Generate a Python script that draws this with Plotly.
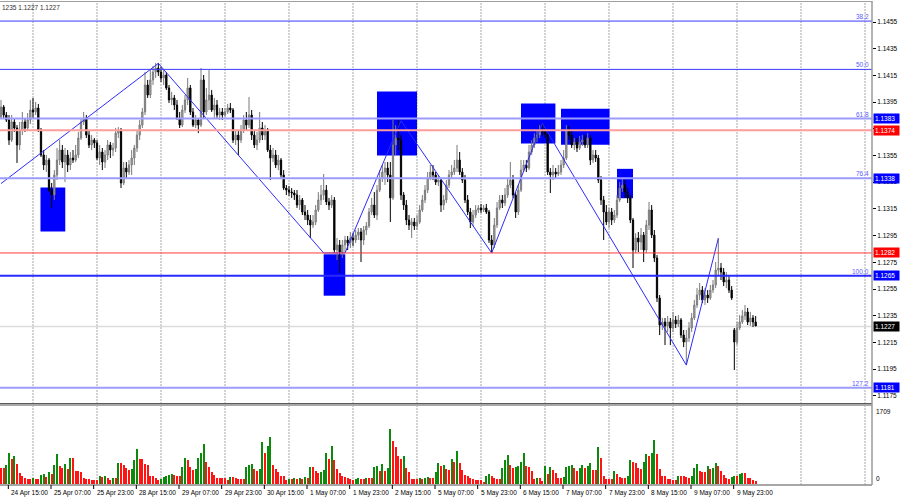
import plotly.graph_objects as go
import pandas as pd

# ---------------- data (EURUSD H1) ----------------
opens = [
1.13838,1.13913,1.13853,1.13816,1.13666,1.13801,1.13756,1.13629,1.13741,1.13801,1.13756,1.13816,
1.13891,1.13876,1.13906,1.13741,1.13554,1.13479,1.13516,1.13291,1.13254,1.13404,1.13516,1.13591,
1.13501,1.13554,1.13479,1.13531,1.13516,1.13554,1.13681,1.13801,1.13831,1.13703,1.13629,1.13666,
1.13644,1.13531,1.13576,1.13501,1.13554,1.13629,1.13591,1.13606,1.13718,1.13741,1.13344,1.13456,
1.13426,1.13479,1.13531,1.13606,1.13703,1.13778,1.13876,1.14078,1.14003,1.14116,1.14175,1.14205,
1.14175,1.14131,1.14153,1.14056,1.13966,1.13981,1.13928,1.13831,1.13778,1.13891,1.13966,1.14056,
1.13876,1.13778,1.13816,1.13778,1.14116,1.13876,1.13966,1.14003,1.13891,1.13928,1.13853,1.13876,
1.13853,1.13876,1.13906,1.13891,1.13666,1.13703,1.13666,1.13741,1.13816,1.13778,1.13853,1.13703,
1.13629,1.13666,1.13756,1.13703,1.13741,1.13591,1.13531,1.13554,1.13479,1.13516,1.13404,1.13306,
1.13291,1.13276,1.13269,1.13254,1.13179,1.13217,1.13127,1.13104,1.13067,1.13029,1.13052,1.13142,
1.13217,1.13254,1.13291,1.13202,1.13179,1.13217,1.12842,1.12880,1.12827,1.12880,1.12917,1.12895,
1.12932,1.12917,1.12954,1.12977,1.12917,1.12992,1.13022,1.13127,1.13179,1.13104,1.13291,1.13381,
1.13426,1.13456,1.13404,1.13232,1.13629,1.13681,1.13666,1.13254,1.13179,1.13067,1.13029,1.13052,
1.13022,1.13052,1.13142,1.13217,1.13291,1.13381,1.13426,1.13404,1.13351,1.13366,1.13179,1.13217,
1.13329,1.13404,1.13426,1.13456,1.13516,1.13426,1.13366,1.13217,1.13127,1.13052,1.13104,1.13142,
1.13157,1.13142,1.13157,1.13127,1.12917,1.12880,1.13029,1.13157,1.13217,1.13194,1.13254,1.13329,
1.13366,1.13254,1.13127,1.13291,1.13441,1.13479,1.13456,1.13576,1.13629,1.13681,1.13703,1.13741,
1.13726,1.13711,1.13426,1.13404,1.13426,1.13411,1.13426,1.13479,1.13531,1.13741,1.13703,1.13629,
1.13651,1.13606,1.13651,1.13666,1.13629,1.13681,1.13516,1.13554,1.13531,1.13366,1.13217,1.13127,
1.13052,1.13127,1.13067,1.13104,1.13217,1.13306,1.13329,1.13276,1.13232,1.13067,1.12842,1.12932,
1.12902,1.12954,1.12842,1.13029,1.13142,1.12954,1.12782,1.12483,1.12280,1.12303,1.12273,1.12303,
1.12258,1.12318,1.12288,1.12318,1.12205,1.12153,1.12183,1.12258,1.12333,1.12430,1.12505,1.12542,
1.12468,1.12505,1.12483,1.12542,1.12580,1.12692,1.12707,1.12677,1.12602,1.12617,1.12542,1.12243,
1.12153,1.12258,1.12303,1.12348,1.12378,1.12303,1.12333,1.12303]

highs = [
1.13966,1.13928,1.13876,1.13853,1.13853,1.13831,1.13778,1.13801,1.13876,1.13831,1.13868,1.13966,
1.13981,1.13951,1.13936,1.13756,1.13591,1.13554,1.13531,1.13344,1.13441,1.13606,1.13666,1.13629,
1.13606,1.13591,1.13576,1.13591,1.13629,1.13726,1.13831,1.13876,1.13853,1.13741,1.13703,1.13681,
1.13666,1.13629,1.13606,1.13591,1.13666,1.13651,1.13644,1.13756,1.13763,1.13756,1.13501,1.13501,
1.13516,1.13591,1.13629,1.13741,1.13816,1.13906,1.14175,1.14116,1.14190,1.14220,1.14243,1.14243,
1.14213,1.14190,1.14175,1.14078,1.14026,1.14003,1.13966,1.13876,1.13928,1.14003,1.14131,1.14078,
1.13906,1.13853,1.13831,1.14205,1.14153,1.14056,1.14190,1.14041,1.13981,1.13966,1.13906,1.13906,
1.13906,1.13936,1.13943,1.13906,1.13741,1.13741,1.13778,1.13853,1.13876,1.13988,1.13891,1.13741,
1.13726,1.13876,1.13801,1.13778,1.13756,1.13629,1.13606,1.13591,1.13554,1.13531,1.13441,1.13329,
1.13321,1.13306,1.13291,1.13291,1.13254,1.13232,1.13179,1.13142,1.13104,1.13104,1.13179,1.13276,
1.13329,1.13411,1.13329,1.13232,1.13254,1.13239,1.12932,1.12917,1.12917,1.12947,1.12947,1.12977,
1.12969,1.12992,1.13007,1.13007,1.13022,1.13052,1.13157,1.13232,1.13276,1.13329,1.13441,1.13479,
1.13501,1.13501,1.13501,1.13816,1.13778,1.13816,1.13703,1.13276,1.13217,1.13104,1.13082,1.13082,
1.13104,1.13179,1.13254,1.13329,1.13426,1.13479,1.13479,1.13426,1.13404,1.13381,1.13254,1.13366,
1.13441,1.13479,1.13516,1.13629,1.13576,1.13456,1.13404,1.13254,1.13157,1.13142,1.13179,1.13179,
1.13187,1.13179,1.13187,1.13142,1.12954,1.13082,1.13202,1.13254,1.13254,1.13306,1.13381,1.13501,
1.13404,1.13276,1.13329,1.13516,1.13516,1.13516,1.13629,1.13666,1.13718,1.13741,1.13778,1.13786,
1.13756,1.13741,1.13456,1.13479,1.13456,1.13479,1.13516,1.13591,1.13778,1.13771,1.13741,1.13681,
1.13681,1.13696,1.13703,1.13703,1.13718,1.13703,1.13591,1.13591,1.13554,1.13396,1.13247,1.13179,
1.13157,1.13157,1.13142,1.13254,1.13351,1.13381,1.13366,1.13306,1.13254,1.13082,1.12969,1.12977,
1.13007,1.12977,1.13067,1.13202,1.13179,1.12992,1.12805,1.12505,1.12333,1.12333,1.12348,1.12333,
1.12378,1.12348,1.12355,1.12333,1.12243,1.12243,1.12303,1.12370,1.12468,1.12557,1.12595,1.12572,
1.12557,1.12542,1.12580,1.12617,1.12752,1.12932,1.12745,1.12707,1.12677,1.12647,1.12572,1.12258,
1.12303,1.12355,1.12393,1.12430,1.12408,1.12378,1.12355,1.12348]

lows = [
1.13831,1.13831,1.13801,1.13629,1.13651,1.13726,1.13494,1.13591,1.13703,1.13726,1.13741,1.13786,
1.13831,1.13853,1.13726,1.13539,1.13441,1.13426,1.13276,1.13157,1.13217,1.13366,1.13479,1.13456,
1.13351,1.13426,1.13441,1.13494,1.13501,1.13531,1.13666,1.13778,1.13681,1.13606,1.13591,1.13606,
1.13516,1.13479,1.13441,1.13456,1.13516,1.13531,1.13546,1.13576,1.13681,1.13306,1.13329,1.13381,
1.13404,1.13404,1.13479,1.13576,1.13666,1.13756,1.13853,1.13981,1.13981,1.14078,1.14131,1.14146,
1.14101,1.14078,1.14041,1.13943,1.13928,1.13891,1.13816,1.13756,1.13763,1.13868,1.13928,1.13853,
1.13763,1.13756,1.13718,1.13763,1.13831,1.13853,1.13891,1.13876,1.13831,1.13831,1.13816,1.13816,
1.13838,1.13861,1.13868,1.13644,1.13629,1.13554,1.13644,1.13718,1.13741,1.13756,1.13666,1.13606,
1.13591,1.13644,1.13666,1.13666,1.13576,1.13366,1.13501,1.13456,1.13441,1.13381,1.13291,1.13254,
1.13247,1.13232,1.13217,1.13157,1.13142,1.13104,1.13067,1.13029,1.12932,1.13007,1.13029,1.13127,
1.13179,1.13217,1.13179,1.13142,1.13157,1.12820,1.12767,1.12670,1.12782,1.12827,1.12842,1.12857,
1.12872,1.12895,1.12917,1.12752,1.12880,1.12954,1.13007,1.13104,1.13082,1.13067,1.13276,1.13351,
1.13329,1.13351,1.13052,1.13217,1.13554,1.13591,1.13217,1.13142,1.13029,1.12992,1.12932,1.12992,
1.12992,1.13037,1.13127,1.13194,1.13269,1.13366,1.13366,1.13329,1.13321,1.13127,1.13142,1.13194,
1.13306,1.13381,1.13404,1.13426,1.13404,1.13344,1.13194,1.13104,1.13007,1.13022,1.13082,1.13119,
1.13119,1.13127,1.13112,1.12895,1.12820,1.12857,1.13007,1.13142,1.13157,1.13172,1.13232,1.13306,
1.13232,1.13082,1.13104,1.13276,1.13426,1.13426,1.13441,1.13554,1.13606,1.13651,1.13681,1.13696,
1.13681,1.13404,1.13269,1.13366,1.13381,1.13396,1.13404,1.13456,1.13516,1.13666,1.13606,1.13591,
1.13576,1.13591,1.13621,1.13606,1.13606,1.13479,1.13494,1.13501,1.13344,1.13179,1.12917,1.13029,
1.13007,1.13029,1.13044,1.13082,1.13202,1.13276,1.13232,1.13194,1.13044,1.12707,1.12820,1.12827,
1.12842,1.12752,1.12820,1.12992,1.12932,1.12752,1.12453,1.12205,1.12243,1.12130,1.12228,1.12130,
1.12228,1.12258,1.12265,1.12183,1.12115,1.11981,1.12153,1.12228,1.12318,1.12408,1.12468,1.12445,
1.12430,1.12445,1.12468,1.12520,1.12557,1.12655,1.12617,1.12572,1.12557,1.12520,1.12468,1.11943,
1.12130,1.12243,1.12288,1.12318,1.12280,1.12273,1.12265,1.12273]

closes = [
1.13913,1.13853,1.13816,1.13666,1.13801,1.13756,1.13629,1.13741,1.13801,1.13756,1.13816,1.13891,
1.13876,1.13906,1.13741,1.13554,1.13479,1.13516,1.13291,1.13254,1.13404,1.13516,1.13591,1.13501,
1.13554,1.13479,1.13531,1.13516,1.13554,1.13681,1.13801,1.13831,1.13703,1.13629,1.13666,1.13644,
1.13531,1.13576,1.13501,1.13554,1.13629,1.13591,1.13606,1.13718,1.13741,1.13344,1.13456,1.13426,
1.13479,1.13531,1.13606,1.13703,1.13778,1.13876,1.14078,1.14003,1.14116,1.14175,1.14205,1.14175,
1.14131,1.14153,1.14056,1.13966,1.13981,1.13928,1.13831,1.13778,1.13891,1.13966,1.14056,1.13876,
1.13778,1.13816,1.13778,1.14116,1.13876,1.13966,1.14003,1.13891,1.13928,1.13853,1.13876,1.13853,
1.13876,1.13906,1.13891,1.13666,1.13703,1.13666,1.13741,1.13816,1.13778,1.13853,1.13703,1.13629,
1.13666,1.13756,1.13703,1.13741,1.13591,1.13531,1.13554,1.13479,1.13516,1.13404,1.13306,1.13291,
1.13276,1.13269,1.13254,1.13179,1.13217,1.13127,1.13104,1.13067,1.13029,1.13052,1.13142,1.13217,
1.13254,1.13291,1.13202,1.13179,1.13217,1.12842,1.12880,1.12827,1.12880,1.12917,1.12895,1.12932,
1.12917,1.12954,1.12977,1.12917,1.12992,1.13022,1.13127,1.13179,1.13104,1.13291,1.13381,1.13426,
1.13456,1.13404,1.13232,1.13629,1.13681,1.13666,1.13254,1.13179,1.13067,1.13029,1.13052,1.13022,
1.13052,1.13142,1.13217,1.13291,1.13381,1.13426,1.13404,1.13351,1.13366,1.13179,1.13217,1.13329,
1.13404,1.13426,1.13456,1.13516,1.13426,1.13366,1.13217,1.13127,1.13052,1.13104,1.13142,1.13157,
1.13142,1.13157,1.13127,1.12917,1.12880,1.13029,1.13157,1.13217,1.13194,1.13254,1.13329,1.13366,
1.13254,1.13127,1.13291,1.13441,1.13479,1.13456,1.13576,1.13629,1.13681,1.13703,1.13741,1.13726,
1.13711,1.13426,1.13404,1.13426,1.13411,1.13426,1.13479,1.13531,1.13741,1.13703,1.13629,1.13651,
1.13606,1.13651,1.13666,1.13629,1.13681,1.13516,1.13554,1.13531,1.13366,1.13217,1.13127,1.13052,
1.13127,1.13067,1.13104,1.13217,1.13306,1.13329,1.13276,1.13232,1.13067,1.12842,1.12932,1.12902,
1.12954,1.12842,1.13029,1.13142,1.12954,1.12782,1.12483,1.12280,1.12303,1.12273,1.12303,1.12258,
1.12318,1.12288,1.12318,1.12205,1.12153,1.12183,1.12258,1.12333,1.12430,1.12505,1.12542,1.12468,
1.12505,1.12483,1.12542,1.12580,1.12692,1.12707,1.12677,1.12602,1.12617,1.12542,1.12483,1.12153,
1.12258,1.12303,1.12348,1.12378,1.12303,1.12333,1.12303,1.12273]

volumes = [
346,346,410,670,540,605,432,238,173,130,108,108,130,108,108,194,216,151,259,216,410,648,389,346,
432,324,562,562,281,281,259,130,108,108,86,86,
86,173,151,173,130,86,130,130,454,454,410,346,302,324,518,756,540,540,432,410,173,173,130,86,
108,151,173,194,216,194,173,173,367,562,518,367,302,324,562,670,886,475,367,259,194,130,130,130,
130,86,151,151,130,108,108,108,367,410,432,324,281,324,929,670,842,1037,410,324,259,173,173,86,
108,108,130,108,130,108,151,130,367,367,281,238,259,302,670,540,842,518,324,238,173,151,130,108,
86,108,130,108,108,130,130,130,367,389,281,432,281,346,1210,950,821,605,540,605,346,259,108,108,
108,130,108,130,151,130,130,259,
454,389,410,324,302,540,475,734,454,302,194,173,130,108,86,86,
86,43,173,216,173,130,108,108,346,518,626,410,346,367,389,475,670,389,367,281,108,130,130,65,
389,216,367,302,238,130,130,151,367,389,410,346,281,346,410,346,389,454,302,302,821,562,173,108,
108,108,281,216,151,130,130,173,518,475,454,346,324,475,648,605,670,972,648,324,173,173,108,108,
86,86,173,173,173,151,130,173,346,432,281,259,259,389,324,346,454,389,281,194,130,108,151,
173,173,216,238,238,130,130,86,65]

# zigzag pivots (bar index, price)
zz_bars = [0, 59, 121, 129, 150, 184, 203, 257, 269]
zz_prices = [1.1334, 1.1424, 1.1282, 1.1282, 1.1381, 1.1282, 1.1379, 1.1198, 1.1293]

# rectangles (bar index from/to, price top/bottom)
box_from = [14.8, 121.0, 141.0, 195.0, 210.0, 231.0]
box_to = [24.1, 129.1, 156.0, 207.9, 228.2, 237.0]
box_top = [1.1331, 1.1281, 1.1403, 1.1394, 1.1390, 1.1345]
box_bottom = [1.1298, 1.1250, 1.1355, 1.1364, 1.1363, 1.1323]

# Fibonacci levels
fib_names = ["38.2", "50.0", "61.8", "76.4", "100.0", "127.2"]
fib_prices = [1.14557, 1.14195, 1.13827, 1.13379, 1.12650, 1.11810]

# horizontal price levels with badges
level_prices = [1.1383, 1.1374, 1.1338, 1.1282, 1.1265, 1.1227, 1.1181]
level_kinds = ["blue", "red", "blue", "red", "blue", "bid", "blue"]

price_ticks = [1.1175, 1.1195, 1.1215, 1.1235, 1.1255, 1.1275, 1.1295, 1.1315,
               1.1335, 1.1355, 1.1375, 1.1395, 1.1415, 1.1435, 1.1455]
vol_scale_max = 1709
header_text = "1235 1.1227 1.1227"

# ---------------- build ----------------
n = min(len(opens), len(highs), len(lows), len(closes), len(volumes))
all_hours = pd.date_range("2025-04-24 13:00", "2025-05-16 23:00", freq="h")
times = [t for t in all_hours if t.weekday() < 5][:n]
idx = list(range(n))

FONT = "Liberation Sans"
fig = go.Figure()

fig.add_trace(go.Candlestick(
    x=idx, open=opens[:n], high=highs[:n], low=lows[:n], close=closes[:n],
    increasing=dict(line=dict(color="#7a7a7a", width=1), fillcolor="#a8a8a8"),
    decreasing=dict(line=dict(color="#000000", width=1), fillcolor="#000000"),
    whiskerwidth=0, xaxis="x", yaxis="y", hoverinfo="skip"))

fig.add_trace(go.Scatter(
    x=zz_bars, y=zz_prices, mode="lines",
    line=dict(color="#2b2bff", width=1), xaxis="x", yaxis="y", hoverinfo="skip"))

vcolors = []
for i in range(n):
    if i > 0 and volumes[i] > volumes[i - 1]:
        vcolors.append("#0b8a0b")
    else:
        vcolors.append("#ff1414")
fig.add_trace(go.Bar(
    x=idx, y=volumes[:n], marker=dict(color=vcolors, line=dict(width=0)),
    width=0.75, xaxis="x2", yaxis="y2", hoverinfo="skip"))

shapes = []
# vertical dotted grid every 24 bars
g = 12
while g < 327:
    shapes.append(dict(type="line", xref="x", yref="paper", x0=g, x1=g, y0=0, y1=1,
                       line=dict(color="#a8a8a8", width=1, dash="2px,1px"), layer="below"))
    g += 24
# rectangles
for a, b, t, bt in zip(box_from, box_to, box_top, box_bottom):
    shapes.append(dict(type="rect", xref="x", yref="y", x0=a, x1=b, y0=bt, y1=t,
                       fillcolor="#0000ff", line=dict(width=0), layer="between"))

fib_style = {"38.2": ("#3a3aff", 1), "50.0": ("#3a3aff", 1), "61.8": ("#9c9cff", 2),
             "76.4": ("#9c9cff", 2), "100.0": ("#2a2aff", 2), "127.2": ("#9c9cff", 2)}
for nm, p in zip(fib_names, fib_prices):
    c, w = fib_style[nm]
    shapes.append(dict(type="line", xref="paper", yref="y", x0=0, x1=1, y0=p, y1=p,
                       line=dict(color=c, width=w), layer="above"))
for p, k in zip(level_prices, level_kinds):
    if k == "red":
        c, w = ("#ff9c9c", 2) if p > 1.13 else ("#ff3a3a", 1)
        shapes.append(dict(type="line", xref="paper", yref="y", x0=0, x1=1, y0=p, y1=p,
                           line=dict(color=c, width=w), layer="above"))
    elif k == "bid":
        shapes.append(dict(type="line", xref="paper", yref="y", x0=0, x1=1, y0=p, y1=p,
                           line=dict(color="#dcdcdc", width=1.5), layer="below"))

PH = 484.0
def py(pix):
    return (485.0 - pix) / PH

# separator between panels, frame
shapes.append(dict(type="rect", xref="paper", yref="paper", x0=0, x1=1, y0=py(406), y1=py(404),
                   fillcolor="#a8a8a8", line=dict(width=0), layer="above"))
shapes.append(dict(type="line", xref="paper", yref="paper", x0=0, x1=1, y0=py(403.5), y1=py(403.5),
                   line=dict(color="#5a5a5a", width=1), layer="above"))
shapes.append(dict(type="line", xref="paper", yref="paper", x0=0, x1=1, y0=py(1.5), y1=py(1.5),
                   line=dict(color="#a0a0a0", width=1), layer="above"))
shapes.append(dict(type="line", xref="paper", yref="paper", x0=0, x1=1, y0=0, y1=0,
                   line=dict(color="#8a8a8a", width=1.5), layer="above"))
shapes.append(dict(type="line", xref="paper", yref="paper", x0=1, x1=1, y0=0, y1=1,
                   line=dict(color="#9a9a9a", width=1.5), layer="above"))

annotations = []
# time labels
for i in range(2, n, 16):
    t = times[i]
    txt = f"{t.day} {t:%b} {t:%H:%M}"
    annotations.append(dict(x=i + 0.75, xref="x", y=0, yref="paper", text=txt, showarrow=False,
                            xanchor="left", yanchor="top", xshift=1, yshift=-2,
                            font=dict(family=FONT, size=6.5, color="#000000")))
    shapes.append(dict(type="line", xref="x", yref="paper", x0=i + 0.75, x1=i + 0.75,
                       y0=0, y1=-4 / PH, line=dict(color="#000000", width=1)))
# fib labels
for nm, p in zip(fib_names, fib_prices):
    annotations.append(dict(x=1, xref="paper", y=p, yref="y", text=nm, showarrow=False,
                            xanchor="right", yanchor="bottom", xshift=-1, yshift=-1,
                            font=dict(family=FONT, size=6.5, color="#5a5aff")))
# badges
badge_bg = {"blue": "#0000ff", "red": "#ff0000", "bid": "#000000"}
for p, k in zip(level_prices, level_kinds):
    annotations.append(dict(x=1, xref="paper", y=p, yref="y", text=f"{p:.4f}", showarrow=False,
                            xanchor="left", yanchor="middle", xshift=1, bgcolor=badge_bg[k],
                            borderpad=1, width=23, align="left",
                            font=dict(family=FONT, size=6.5, color="#ffffff")))
# volume scale labels
annotations.append(dict(x=1, xref="paper", y=vol_scale_max, yref="y2", text=str(vol_scale_max),
                        showarrow=False, xanchor="left", yanchor="top", xshift=2,
                        font=dict(family=FONT, size=6.5, color="#000000")))
annotations.append(dict(x=1, xref="paper", y=0, yref="y2", text="0",
                        showarrow=False, xanchor="left", yanchor="bottom", xshift=2,
                        font=dict(family=FONT, size=6.5, color="#000000")))
# header
annotations.append(dict(x=0, xref="paper", y=1, yref="paper", text=header_text, showarrow=False,
                        xanchor="left", yanchor="top", yshift=-1,
                        font=dict(family=FONT, size=6.5, color="#303030")))

xr = [-0.375, 326.625]
fig.update_layout(
    width=900, height=500,
    margin=dict(l=0, r=28, t=1, b=15, autoexpand=False),
    paper_bgcolor="#ffffff", plot_bgcolor="#ffffff",
    showlegend=False, boxgap=0.32, bargap=0,
    shapes=shapes, annotations=annotations,
    xaxis=dict(domain=[0, 1], range=xr, anchor="y", showgrid=False, zeroline=False,
               showticklabels=False, ticks="", rangeslider=dict(visible=False), fixedrange=True,
               automargin=False),
    xaxis2=dict(domain=[0, 1], range=xr, anchor="y2", matches="x", showgrid=False, zeroline=False,
                showticklabels=False, ticks="", fixedrange=True, automargin=False),
    yaxis=dict(domain=[py(403), 1], range=[1.116961, 1.147073], side="right", anchor="x",
               tickvals=price_ticks, ticktext=[f"{v:.4f}" for v in price_ticks],
               ticks="outside", ticklen=3, tickcolor="#000000", tickwidth=1,
               tickfont=dict(family=FONT, size=6.5, color="#000000"), automargin=False,
               showgrid=False, zeroline=False, showline=False, fixedrange=True),
    yaxis2=dict(domain=[0, py(406)], range=[-22, vol_scale_max], anchor="x2", side="right",
                showticklabels=False, ticks="", showgrid=False, zeroline=False, fixedrange=True,
                automargin=False),
)

fig.write_html("out.html", config={"displayModeBar": False},
               post_script="document.body.style.margin='0';document.body.style.overflow='hidden';")
